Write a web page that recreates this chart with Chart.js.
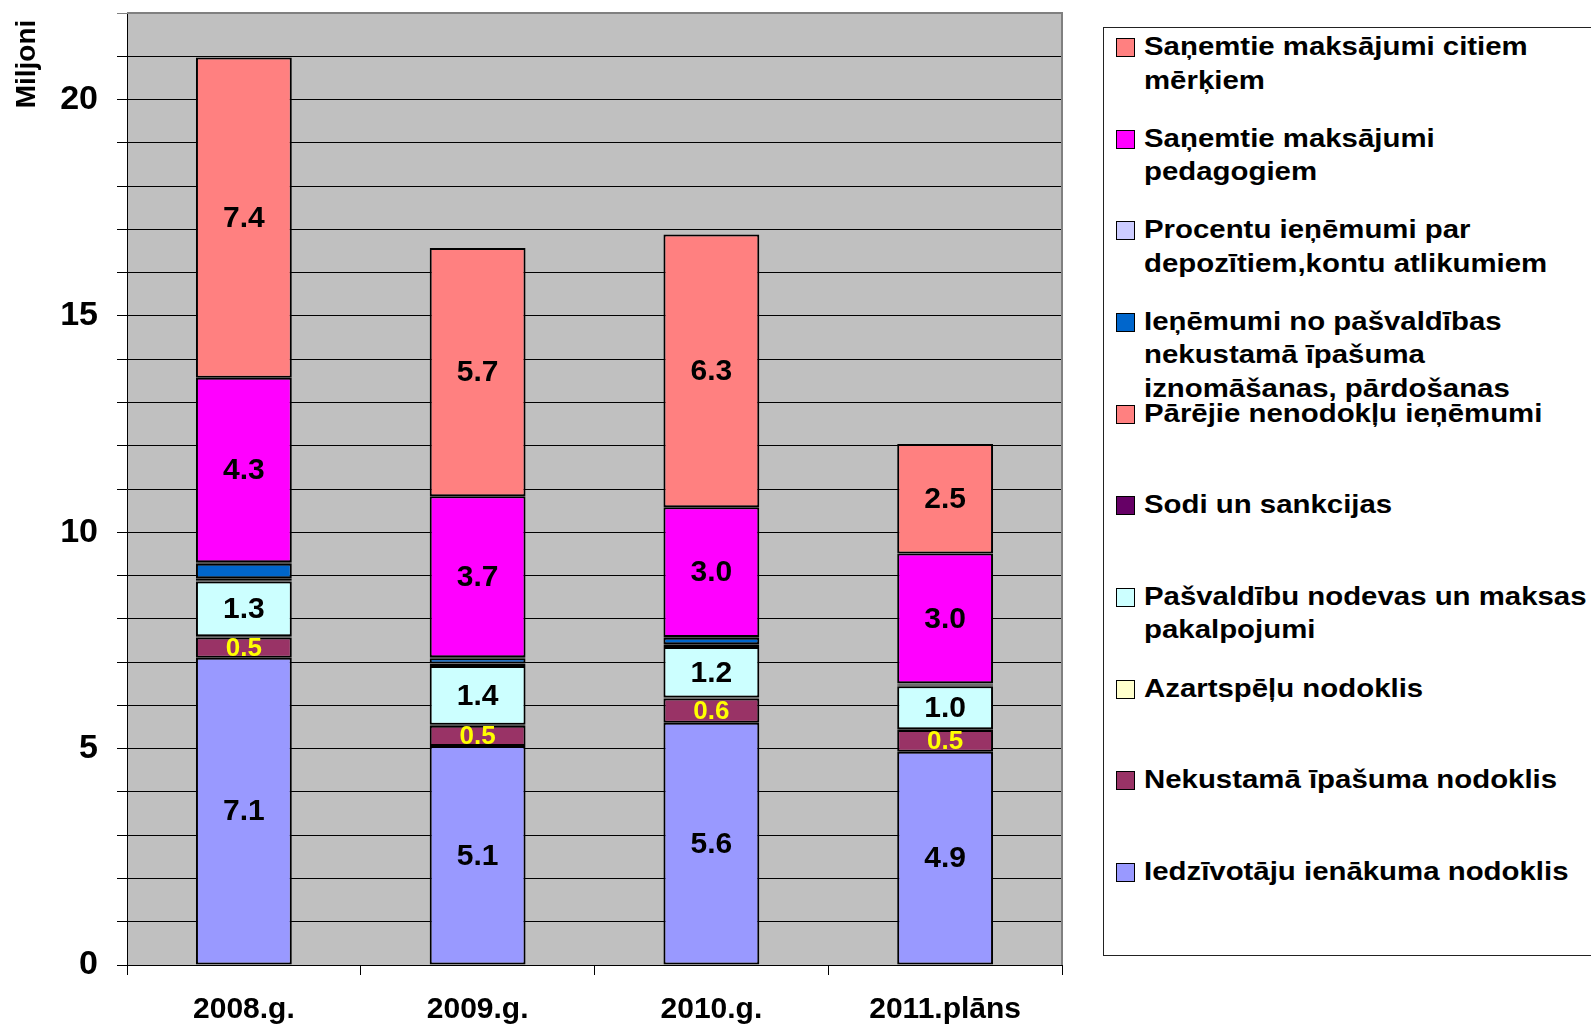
<!DOCTYPE html>
<html>
<head>
<meta charset="utf-8">
<script src="https://cdn.jsdelivr.net/npm/chart.js@4.4.1/dist/chart.umd.min.js"></script>
<style>
  body { margin: 0; background: #fff; font-family: "Liberation Sans", Arial, sans-serif; }
  #wrap { position: relative; width: 1591px; height: 1025px; overflow: hidden; }
  #myChart { position: absolute; left: 0; top: 0; }
  #legend {
    position: absolute; left: 1103px; top: 27px; width: 520px; height: 927px;
    border: 1px solid #222; background: #fff;
  }
  .item { position: absolute; left: 12px; font-weight: bold; font-size: 26px; line-height: 33.5px; white-space: pre; color: #000; }
  .item .box { position: absolute; left: 0; top: 8px; width: 17px; height: 17px; border: 1px solid #000; }
  .item .txt { position: absolute; left: 28px; top: 0; transform: scaleX(1.13); transform-origin: 0 0; }
</style>
</head>
<body>
<div id="wrap">
  <canvas id="myChart" width="1075" height="1025"></canvas>
  <div id="legend"></div>
</div>
<script>
// categories
const years = ["2008.g.", "2009.g.", "2010.g.", "2011.plāns"];

// series, bottom of the stack first
const iedzivotaju = [7.1, 5.06, 5.6, 4.93];
const nekustama = [0.47, 0.47, 0.56, 0.5];
const azartspelu = [0.03, 0.02, 0.02, 0.02];
const pasvaldibu = [1.26, 1.36, 1.17, 0.99];
const sodi = [0.02, 0.02, 0.02, 0.02];
const parejie = [0.06, 0.04, 0.04, 0.02];
const ienemumiNo = [0.33, 0.12, 0.15, 0.02];
const procentu = [0.04, 0.02, 0.02, 0.01];
const pedagogiem = [4.26, 3.72, 3.0, 3.0];
const citiem = [7.4, 5.74, 6.3, 2.53];

const seriesNames = [
  "Iedzīvotāju ienākuma nodoklis",
  "Nekustamā īpašuma nodoklis",
  "Azartspēļu nodoklis",
  "Pašvaldību nodevas un maksas\npakalpojumi",
  "Sodi un sankcijas",
  "Pārējie nenodokļu ieņēmumi",
  "Ieņēmumi no pašvaldības\nnekustamā īpašuma\niznomāšanas, pārdošanas",
  "Procentu ieņēmumi par\ndepozītiem,kontu atlikumiem",
  "Saņemtie maksājumi\npedagogiem",
  "Saņemtie maksājumi citiem\nmērķiem",
];
const seriesValues = [iedzivotaju, nekustama, azartspelu, pasvaldibu, sodi, parejie, ienemumiNo, procentu, pedagogiem, citiem];
const seriesColors = ["#9999FF", "#993366", "#FFFFCC", "#CCFFFF", "#660066", "#FF8080", "#0066CC", "#CCCCFF", "#FF00FF", "#FF8080"];
// which series get a value label, and in what colour
const labelColors = ["#000", "#FFFF00", null, "#000", null, null, null, null, "#000", "#000"];

const yTicks = [0, 5, 10, 15, 20];

let datasets = [];
for (let i = 0; i < seriesValues.length; i++) {
  datasets.push({
    label: seriesNames[i],
    data: seriesValues[i],
    backgroundColor: seriesColors[i],
    borderColor: "#000",
    borderWidth: 2,
    borderSkipped: false,
    barPercentage: 0.41,
    categoryPercentage: 1,
  });
}

const plotBg = {
  id: "plotBg",
  beforeDraw(chart) {
    const { ctx, chartArea } = chart;
    ctx.save();
    ctx.fillStyle = "#C0C0C0";
    ctx.fillRect(chartArea.left, chartArea.top, chartArea.right - chartArea.left, chartArea.bottom - chartArea.top);
    ctx.restore();
  },
  afterDraw(chart) {
    const { ctx, chartArea } = chart;
    ctx.save();
    ctx.strokeStyle = "#808080";
    ctx.lineWidth = 2;
    ctx.beginPath();
    ctx.moveTo(chartArea.left, chartArea.top);
    ctx.lineTo(chartArea.right, chartArea.top);
    ctx.lineTo(chartArea.right, chartArea.bottom);
    ctx.stroke();

    // axis title
    ctx.translate(27, 64);
    ctx.rotate(-Math.PI / 2);
    ctx.fillStyle = "#000";
    ctx.font = "bold 28px 'Liberation Sans', Arial, sans-serif";
    ctx.textAlign = "center";
    ctx.textBaseline = "middle";
    ctx.fillText("Miljoni", 0, 0);
    ctx.restore();
  },
};

const valueLabels = {
  id: "valueLabels",
  afterDatasetsDraw(chart) {
    const ctx = chart.ctx;
    ctx.save();
    ctx.textAlign = "center";
    ctx.textBaseline = "middle";
    chart.data.datasets.forEach((ds, i) => {
      if (!labelColors[i]) return;
      const meta = chart.getDatasetMeta(i);
      ctx.fillStyle = labelColors[i];
      ctx.font = labelColors[i] === "#000"
        ? "bold 30px 'Liberation Sans', Arial, sans-serif"
        : "bold 26px 'Liberation Sans', Arial, sans-serif";
      meta.data.forEach((bar, j) => {
        const y = (bar.y + bar.base) / 2;
        ctx.fillText(ds.data[j].toFixed(1), bar.x, y + 1);
      });
    });
    ctx.restore();
  },
};

let chart1 = document.getElementById("myChart").getContext("2d");

const myChart1 = new Chart(chart1, {
  type: "bar",
  data: {
    labels: years,
    datasets: datasets,
  },
  options: {
    responsive: false,
    animation: false,
    devicePixelRatio: 1,
    layout: { padding: { top: 13, right: 13, left: 0, bottom: 0 } },
    plugins: {
      legend: { display: false },
      tooltip: { enabled: false },
    },
    scales: {
      x: {
        stacked: true,
        afterFit(scale) {
          scale.height = 60;
        },
        border: { display: true, color: "#000", width: 1 },
        grid: { offset: true, drawOnChartArea: false, drawTicks: true, tickLength: 10, color: "#000" },
        ticks: {
          color: "#000",
          padding: 17,
          font: { size: 30, weight: "bold", family: "'Liberation Sans', Arial, sans-serif" },
        },
      },
      y: {
        stacked: true,
        min: 0,
        max: 22,
        afterFit(scale) {
          scale.width = 127;
          scale.paddingTop = 0;
          scale.paddingBottom = 0;
        },
        border: { display: true, color: "#000", width: 1 },
        grid: {
          color: (c) => (c.tick && c.tick.value === 22 ? "#808080" : "#000"),
          lineWidth: 1,
          tickLength: 10,
        },
        ticks: {
          stepSize: 1,
          autoSkip: false,
          padding: 19,
          color: "#000",
          font: { size: 34, weight: "bold", family: "'Liberation Sans', Arial, sans-serif" },
          callback: (v) => (yTicks.includes(v) ? v : ""),
        },
      },
    },
  },
  plugins: [plotBg, valueLabels],
});

// legend, top entry = top of the stack
let legendHtml = "";
const pitch = 91.66;
for (let k = 0; k < seriesNames.length; k++) {
  const i = seriesNames.length - 1 - k;
  legendHtml += `<div class="item" style="top:${2 + k * pitch}px">
    <div class="box" style="background:${seriesColors[i]}"></div>
    <div class="txt">${seriesNames[i]}</div>
  </div>`;
}
document.getElementById("legend").innerHTML = legendHtml;
</script>
</body>
</html>
